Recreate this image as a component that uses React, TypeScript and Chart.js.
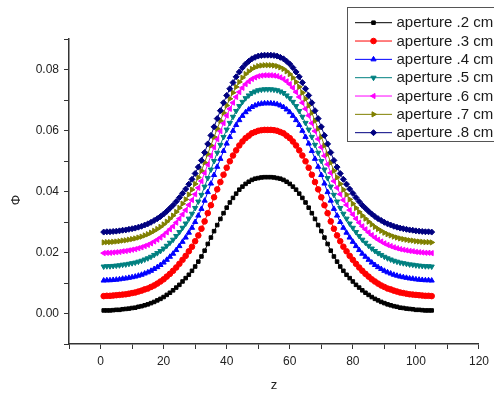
import React, { useEffect, useRef } from 'react';
import { Chart, registerables } from 'chart.js';
import { drawPoint } from 'chart.js/helpers';

Chart.register(...registerables);

// ---------------- data ----------------
const zValues = [
  1, 2, 3, 4, 5, 6, 7, 8, 9, 10, 11, 12, 13, 14, 15, 16, 17, 18, 19, 20,
  21, 22, 23, 24, 25, 26, 27, 28, 29, 30, 31, 32, 33, 34, 35, 36, 37, 38, 39, 40,
  41, 42, 43, 44, 45, 46, 47, 48, 49, 50, 51, 52, 53, 54, 55, 56, 57, 58, 59, 60,
  61, 62, 63, 64, 65, 66, 67, 68, 69, 70, 71, 72, 73, 74, 75, 76, 77, 78, 79, 80,
  81, 82, 83, 84, 85, 86, 87, 88, 89, 90, 91, 92, 93, 94, 95, 96, 97, 98, 99, 100,
  101, 102, 103, 104, 105,
];

const seriesLabels = [
  'aperture .2 cm',
  'aperture .3 cm',
  'aperture .4 cm',
  'aperture .5 cm',
  'aperture .6 cm',
  'aperture .7 cm',
  'aperture .8 cm',
];

const aperture02 = [
  0.0010, 0.0010, 0.0010, 0.0011, 0.0012, 0.0012, 0.0014, 0.0015, 0.0016, 0.0018, 0.0019, 0.0022, 0.0024, 0.0027, 0.0030, 0.0034, 0.0038, 0.0043, 0.0048, 0.0054, 0.0061, 0.0068, 0.0076, 0.0085, 0.0094, 0.0105, 0.0116, 0.0127, 0.0140, 0.0154, 0.0170, 0.0187, 0.0206, 0.0228, 0.0249, 0.0270, 0.0290, 0.0310, 0.0329, 0.0347, 0.0364, 0.0379, 0.0393, 0.0406, 0.0416, 0.0425, 0.0432, 0.0438, 0.0442, 0.0444, 0.0446, 0.0447,
  0.0447,
  0.0447, 0.0446, 0.0444, 0.0442, 0.0438, 0.0432, 0.0425, 0.0416, 0.0406, 0.0393, 0.0379, 0.0364, 0.0347, 0.0329, 0.0310, 0.0290, 0.0270, 0.0249, 0.0228, 0.0206, 0.0187, 0.0170, 0.0154, 0.0140, 0.0127, 0.0116, 0.0105, 0.0094, 0.0085, 0.0076, 0.0068, 0.0061, 0.0054, 0.0048, 0.0043, 0.0038, 0.0034, 0.0030, 0.0027, 0.0024, 0.0022, 0.0019, 0.0018, 0.0016, 0.0015, 0.0014, 0.0012, 0.0012, 0.0011, 0.0010, 0.0010, 0.0010,
];

const aperture03 = [
  0.0057, 0.0058, 0.0058, 0.0059, 0.0060, 0.0061, 0.0062, 0.0063, 0.0065, 0.0067, 0.0069, 0.0072, 0.0075, 0.0079, 0.0082, 0.0087, 0.0092, 0.0098, 0.0105, 0.0112, 0.0121, 0.0130, 0.0140, 0.0151, 0.0163, 0.0176, 0.0189, 0.0204, 0.0219, 0.0237, 0.0256, 0.0278, 0.0302, 0.0329, 0.0355, 0.0381, 0.0407, 0.0431, 0.0455, 0.0478, 0.0499, 0.0518, 0.0535, 0.0551, 0.0564, 0.0575, 0.0583, 0.0591, 0.0595, 0.0599, 0.0601, 0.0602,
  0.0602,
  0.0602, 0.0601, 0.0599, 0.0595, 0.0591, 0.0583, 0.0575, 0.0564, 0.0551, 0.0535, 0.0518, 0.0499, 0.0478, 0.0455, 0.0431, 0.0407, 0.0381, 0.0355, 0.0329, 0.0302, 0.0278, 0.0256, 0.0237, 0.0219, 0.0204, 0.0189, 0.0176, 0.0163, 0.0151, 0.0140, 0.0130, 0.0121, 0.0112, 0.0105, 0.0098, 0.0092, 0.0087, 0.0082, 0.0079, 0.0075, 0.0072, 0.0069, 0.0067, 0.0065, 0.0063, 0.0062, 0.0061, 0.0060, 0.0059, 0.0058, 0.0058, 0.0057,
];

const aperture04 = [
  0.0108, 0.0109, 0.0109, 0.0110, 0.0111, 0.0112, 0.0114, 0.0115, 0.0117, 0.0119, 0.0121, 0.0124, 0.0127, 0.0131, 0.0135, 0.0140, 0.0146, 0.0152, 0.0159, 0.0167, 0.0176, 0.0186, 0.0196, 0.0208, 0.0221, 0.0235, 0.0249, 0.0265, 0.0281, 0.0300, 0.0321, 0.0343, 0.0370, 0.0398, 0.0426, 0.0454, 0.0481, 0.0507, 0.0533, 0.0557, 0.0579, 0.0599, 0.0618, 0.0634, 0.0648, 0.0660, 0.0669, 0.0677, 0.0682, 0.0686, 0.0688, 0.0689,
  0.0689,
  0.0689, 0.0688, 0.0686, 0.0682, 0.0677, 0.0669, 0.0660, 0.0648, 0.0634, 0.0618, 0.0599, 0.0579, 0.0557, 0.0533, 0.0507, 0.0481, 0.0454, 0.0426, 0.0398, 0.0370, 0.0343, 0.0321, 0.0300, 0.0281, 0.0265, 0.0249, 0.0235, 0.0221, 0.0208, 0.0196, 0.0186, 0.0176, 0.0167, 0.0159, 0.0152, 0.0146, 0.0140, 0.0135, 0.0131, 0.0127, 0.0124, 0.0121, 0.0119, 0.0117, 0.0115, 0.0114, 0.0112, 0.0111, 0.0110, 0.0109, 0.0109, 0.0108,
];

const aperture05 = [
  0.0154, 0.0155, 0.0155, 0.0156, 0.0157, 0.0158, 0.0160, 0.0161, 0.0163, 0.0165, 0.0167, 0.0170, 0.0173, 0.0177, 0.0181, 0.0186, 0.0192, 0.0198, 0.0205, 0.0213, 0.0222, 0.0232, 0.0242, 0.0254, 0.0267, 0.0281, 0.0295, 0.0311, 0.0327, 0.0346, 0.0367, 0.0389, 0.0416, 0.0444, 0.0472, 0.0500, 0.0527, 0.0553, 0.0579, 0.0603, 0.0625, 0.0645, 0.0664, 0.0680, 0.0694, 0.0706, 0.0715, 0.0723, 0.0728, 0.0732, 0.0734, 0.0735,
  0.0735,
  0.0735, 0.0734, 0.0732, 0.0728, 0.0723, 0.0715, 0.0706, 0.0694, 0.0680, 0.0664, 0.0645, 0.0625, 0.0603, 0.0579, 0.0553, 0.0527, 0.0500, 0.0472, 0.0444, 0.0416, 0.0389, 0.0367, 0.0346, 0.0327, 0.0311, 0.0295, 0.0281, 0.0267, 0.0254, 0.0242, 0.0232, 0.0222, 0.0213, 0.0205, 0.0198, 0.0192, 0.0186, 0.0181, 0.0177, 0.0173, 0.0170, 0.0167, 0.0165, 0.0163, 0.0161, 0.0160, 0.0158, 0.0157, 0.0156, 0.0155, 0.0155, 0.0154,
];

const aperture06 = [
  0.0198, 0.0199, 0.0199, 0.0200, 0.0201, 0.0202, 0.0204, 0.0205, 0.0207, 0.0209, 0.0211, 0.0214, 0.0217, 0.0221, 0.0225, 0.0230, 0.0236, 0.0242, 0.0249, 0.0257, 0.0266, 0.0276, 0.0286, 0.0298, 0.0311, 0.0325, 0.0339, 0.0356, 0.0372, 0.0391, 0.0412, 0.0434, 0.0461, 0.0489, 0.0517, 0.0545, 0.0572, 0.0598, 0.0624, 0.0649, 0.0671, 0.0691, 0.0710, 0.0726, 0.0740, 0.0752, 0.0761, 0.0769, 0.0774, 0.0778, 0.0780, 0.0781,
  0.0781,
  0.0781, 0.0780, 0.0778, 0.0774, 0.0769, 0.0761, 0.0752, 0.0740, 0.0726, 0.0710, 0.0691, 0.0671, 0.0649, 0.0624, 0.0598, 0.0572, 0.0545, 0.0517, 0.0489, 0.0461, 0.0434, 0.0412, 0.0391, 0.0372, 0.0356, 0.0339, 0.0325, 0.0311, 0.0298, 0.0286, 0.0276, 0.0266, 0.0257, 0.0249, 0.0242, 0.0236, 0.0230, 0.0225, 0.0221, 0.0217, 0.0214, 0.0211, 0.0209, 0.0207, 0.0205, 0.0204, 0.0202, 0.0201, 0.0200, 0.0199, 0.0199, 0.0198,
];

const aperture07 = [
  0.0233, 0.0234, 0.0234, 0.0235, 0.0236, 0.0237, 0.0239, 0.0240, 0.0242, 0.0244, 0.0246, 0.0249, 0.0252, 0.0256, 0.0260, 0.0265, 0.0271, 0.0277, 0.0284, 0.0292, 0.0301, 0.0311, 0.0321, 0.0333, 0.0346, 0.0360, 0.0374, 0.0390, 0.0406, 0.0425, 0.0446, 0.0468, 0.0495, 0.0523, 0.0551, 0.0579, 0.0606, 0.0632, 0.0658, 0.0682, 0.0704, 0.0724, 0.0743, 0.0759, 0.0773, 0.0785, 0.0794, 0.0802, 0.0807, 0.0811, 0.0813, 0.0814,
  0.0814,
  0.0814, 0.0813, 0.0811, 0.0807, 0.0802, 0.0794, 0.0785, 0.0773, 0.0759, 0.0743, 0.0724, 0.0704, 0.0682, 0.0658, 0.0632, 0.0606, 0.0579, 0.0551, 0.0523, 0.0495, 0.0468, 0.0446, 0.0425, 0.0406, 0.0390, 0.0374, 0.0360, 0.0346, 0.0333, 0.0321, 0.0311, 0.0301, 0.0292, 0.0284, 0.0277, 0.0271, 0.0265, 0.0260, 0.0256, 0.0252, 0.0249, 0.0246, 0.0244, 0.0242, 0.0240, 0.0239, 0.0237, 0.0236, 0.0235, 0.0234, 0.0234, 0.0233,
];

const aperture08 = [
  0.0267, 0.0268, 0.0268, 0.0269, 0.0270, 0.0271, 0.0273, 0.0274, 0.0276, 0.0278, 0.0280, 0.0283, 0.0286, 0.0290, 0.0294, 0.0299, 0.0305, 0.0311, 0.0318, 0.0326, 0.0335, 0.0345, 0.0355, 0.0367, 0.0380, 0.0394, 0.0408, 0.0424, 0.0440, 0.0459, 0.0480, 0.0502, 0.0528, 0.0556, 0.0584, 0.0612, 0.0639, 0.0665, 0.0691, 0.0715, 0.0737, 0.0757, 0.0776, 0.0792, 0.0806, 0.0818, 0.0827, 0.0835, 0.0840, 0.0844, 0.0846, 0.0847,
  0.0847,
  0.0847, 0.0846, 0.0844, 0.0840, 0.0835, 0.0827, 0.0818, 0.0806, 0.0792, 0.0776, 0.0757, 0.0737, 0.0715, 0.0691, 0.0665, 0.0639, 0.0612, 0.0584, 0.0556, 0.0528, 0.0502, 0.0480, 0.0459, 0.0440, 0.0424, 0.0408, 0.0394, 0.0380, 0.0367, 0.0355, 0.0345, 0.0335, 0.0326, 0.0318, 0.0311, 0.0305, 0.0299, 0.0294, 0.0290, 0.0286, 0.0283, 0.0280, 0.0278, 0.0276, 0.0274, 0.0273, 0.0271, 0.0270, 0.0269, 0.0268, 0.0268, 0.0267,
];

const xTickLabels = ['0', '20', '40', '60', '80', '100', '120'];
const yTickLabels = ['0.00', '0.02', '0.04', '0.06', '0.08'];
const xTitle = 'z';
const yTitle = 'Φ';

// ---------------- styles ----------------
const FONT = '"Liberation Sans", Arial, Helvetica, sans-serif';
const seriesValues = [aperture02, aperture03, aperture04, aperture05, aperture06, aperture07, aperture08];
const seriesColors = ['#000000', '#FF0000', '#0000FF', '#008080', '#FF00FF', '#808000', '#000080'];
const seriesShapes = ['rect', 'circle', 'triangle', 'triangle', 'triangle', 'triangle', 'rectRot'];
const seriesRotations = [0, 0, 0, 180, 270, 90, 0];
const seriesRadius = [2.5, 2.8, 3, 3, 3, 3, 3];

const overlayPlugin = {
  id: 'overlay',
  afterDraw(chart: any) {
    const ctx = chart.ctx as CanvasRenderingContext2D;
    ctx.save();
    // legend box
    ctx.fillStyle = '#ffffff';
    ctx.fillRect(347.5, 7.5, 200, 134);
    ctx.strokeStyle = '#555555';
    ctx.lineWidth = 1;
    ctx.strokeRect(347.5, 7.5, 200, 134);
    chart.data.datasets.forEach((ds: any, i: number) => {
      const y = 22.7 + i * 18.33;
      ctx.strokeStyle = ds.borderColor;
      ctx.lineWidth = 1;
      ctx.beginPath();
      ctx.moveTo(355, y);
      ctx.lineTo(392, y);
      ctx.stroke();
      ctx.fillStyle = ds.pointBackgroundColor;
      ctx.strokeStyle = ds.pointBorderColor;
      drawPoint(ctx, {
        pointStyle: ds.pointStyle,
        rotation: ds.pointRotation,
        radius: ds.pointRadius,
        borderWidth: 1,
      } as any, 373.5, y);
      ctx.fillStyle = '#1a1a1a';
      ctx.font = `15px ${FONT}`;
      ctx.textAlign = 'left';
      ctx.textBaseline = 'middle';
      ctx.fillText(ds.label, 396.5, y + 0.5);
    });
    // y-axis title
    ctx.translate(16, 200);
    ctx.rotate(-Math.PI / 2);
    ctx.fillStyle = '#222222';
    ctx.font = `13px ${FONT}`;
    ctx.textAlign = 'center';
    ctx.textBaseline = 'middle';
    ctx.fillText(yTitle, 0, 0);
    ctx.restore();
  },
};

export default function App() {
  const canvasRef = useRef<HTMLCanvasElement | null>(null);

  useEffect(() => {
    const canvas = canvasRef.current;
    if (!canvas) return;

    const datasets = seriesLabels.map((label, i) => ({
      label,
      data: zValues.map((z, j) => ({ x: z, y: seriesValues[i][j] })),
      borderColor: seriesColors[i],
      backgroundColor: seriesColors[i],
      pointBackgroundColor: seriesColors[i],
      pointBorderColor: seriesColors[i],
      pointStyle: seriesShapes[i],
      pointRotation: seriesRotations[i],
      pointRadius: seriesRadius[i],
      pointBorderWidth: 1,
      borderWidth: 1,
      fill: false,
      tension: 0,
      order: seriesLabels.length - 1 - i,
    }));

    const tickFont = { family: FONT, size: 12 };
    const gridOpts = {
      display: true,
      drawOnChartArea: false,
      drawTicks: true,
      tickLength: 5,
      tickWidth: 1,
      tickColor: '#333333',
    };
    const borderOpts = { display: true, color: '#333333', width: 1.5 };

    const chart = new Chart(canvas, {
      type: 'line',
      data: { datasets } as any,
      options: {
        animation: false,
        responsive: false,
        devicePixelRatio: 1,
        layout: { padding: { top: 39, right: 12, left: 0, bottom: 0 } },
        plugins: {
          legend: { display: false },
          tooltip: { enabled: false },
        },
        scales: {
          x: {
            type: 'linear',
            min: -10,
            max: 120,
            ticks: {
              stepSize: 10,
              autoSkip: false,
              maxRotation: 0,
              padding: 5,
              color: '#222222',
              font: tickFont,
              callback: (v: any) => {
                const s = String(Math.round(Number(v)));
                return xTickLabels.includes(s) ? s : '';
              },
            },
            grid: gridOpts,
            border: borderOpts,
            title: {
              display: true,
              text: xTitle,
              color: '#222222',
              font: { family: FONT, size: 13 },
              padding: { top: 0, bottom: 1 },
            },
            afterFit: (s: any) => {
              s.height = 50;
            },
          },
          y: {
            type: 'linear',
            min: -0.01,
            max: 0.09,
            ticks: {
              stepSize: 0.01,
              autoSkip: false,
              padding: 5,
              color: '#222222',
              font: tickFont,
              callback: (v: any) => {
                const k = Math.round(Number(v) * 100);
                return k >= 0 && k <= 8 && k % 2 === 0 ? yTickLabels[k / 2] : '';
              },
            },
            grid: gridOpts,
            border: borderOpts,
            afterFit: (s: any) => {
              s.width = 69;
            },
          },
        },
      } as any,
      plugins: [overlayPlugin],
    });

    return () => chart.destroy();
  }, []);

  return (
    <div
      style={{
        position: 'fixed',
        left: 0,
        top: 0,
        width: 494,
        height: 394,
        background: '#ffffff',
      }}
    >
      <canvas ref={canvasRef} width={494} height={394} style={{ display: 'block' }} />
    </div>
  );
}
